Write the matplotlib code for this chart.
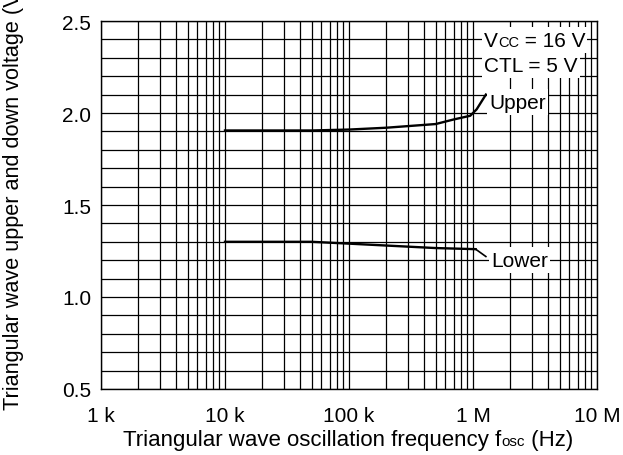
import matplotlib
matplotlib.use("Agg")
import matplotlib.pyplot as plt
from matplotlib.ticker import FixedLocator, NullFormatter

plt.rcParams['font.family'] = ['Liberation Sans', 'DejaVu Sans']

# data
upper_f = [1e4, 5e4, 1e5, 2e5, 5e5, 7e5, 9.5e5, 1.07e6, 1.27e6]
upper_v = [1.905, 1.905, 1.91, 1.92, 1.94, 1.965, 1.985, 2.02, 2.10]
lower_f = [1e4, 5e4, 1e5, 5e5, 1.05e6]
lower_v = [1.30, 1.30, 1.29, 1.266, 1.26]

x_ticks = [1e3, 1e4, 1e5, 1e6, 1e7]
x_labels = ['1 k', '10 k', '100 k', '1 M', '10 M']
y_ticks = [0.5, 1.0, 1.5, 2.0, 2.5]
y_labels = ['0.5', '1.0', '1.5', '2.0', '2.5']

FS = 15
SMALL = 10.5

fig = plt.figure(figsize=(6.23, 4.56), dpi=100)
ax = fig.add_axes([101 / 623, 66 / 456, 496 / 623, 368 / 456])
renderer = fig.canvas.get_renderer()


def pieces(x_px, y_px, parts, ha='left', bg=False):
    """text pieces on one baseline; x_px, y_px in figure pixels from bottom-left"""
    widths = []
    for s, fs in parts:
        t = fig.text(0, 0, s, fontsize=fs)
        widths.append(t.get_window_extent(renderer).width)
        t.remove()
    total = sum(widths)
    if ha == 'center':
        x_px -= total / 2
    elif ha == 'right':
        x_px -= total
    if bg:
        fig.patches.append(plt.Rectangle(((x_px - 2) / 623, (y_px - 7) / 456),
                                         (total + 4) / 623, 26 / 456,
                                         transform=fig.transFigure,
                                         facecolor='white', edgecolor='none',
                                         zorder=4))
    for (s, fs), w in zip(parts, widths):
        fig.text(x_px / 623, y_px / 456, s, fontsize=fs, ha='left',
                 va='baseline', zorder=5)
        x_px += w


ax.plot(upper_f, upper_v, color='black', lw=1.7, zorder=3)
ax.plot(lower_f, lower_v, color='black', lw=1.7, zorder=3)
# leader line to the "Lower" label
ax.plot([1.05e6, 1.27e6], [1.26, 1.22], color='black', lw=1.2, zorder=3)

ax.set_xscale('log')
ax.set_xlim(1e3, 1e7)
ax.set_ylim(0.5, 2.5)

ax.xaxis.set_major_locator(FixedLocator(x_ticks))
ax.set_xticklabels(x_labels)
minor_x = [m * 10 ** d for d in range(3, 7) for m in range(2, 10)]
ax.xaxis.set_minor_locator(FixedLocator(minor_x))
ax.xaxis.set_minor_formatter(NullFormatter())
ax.set_yticks(y_ticks)
ax.set_yticklabels(y_labels)
ax.set_yticks([0.5 + 0.1 * i for i in range(21)], minor=True)

ax.grid(True, which='both', color='black', lw=0.9)
ax.set_axisbelow(True)
ax.tick_params(which='both', length=0, labelsize=FS)
ax.tick_params(axis='x', pad=12)
ax.tick_params(axis='y', pad=7)
for sp in ax.spines.values():
    sp.set_linewidth(1.0)

fig.text(14 / 623, 46 / 456, 'Triangular wave upper and down voltage (V)',
         rotation=90, ha='center', va='bottom', fontsize=15.6)

# conditions, top right
pieces(484, 409, [('V', FS), ('CC', SMALL), (' = 16 V', FS)], bg=True)
pieces(484, 384, [('CTL = 5 V', FS)], bg=True)

pieces(489, 347, [('Upper', FS)], bg=True)
pieces(491, 189, [('Lower', FS)], bg=True)

# x label with small "osc"
pieces(348, 10, [('Triangular wave oscillation frequency f', 16),
                 ('osc', 11), (' (Hz)', 16)], ha='center')

fig.savefig('out.png', dpi=100)
